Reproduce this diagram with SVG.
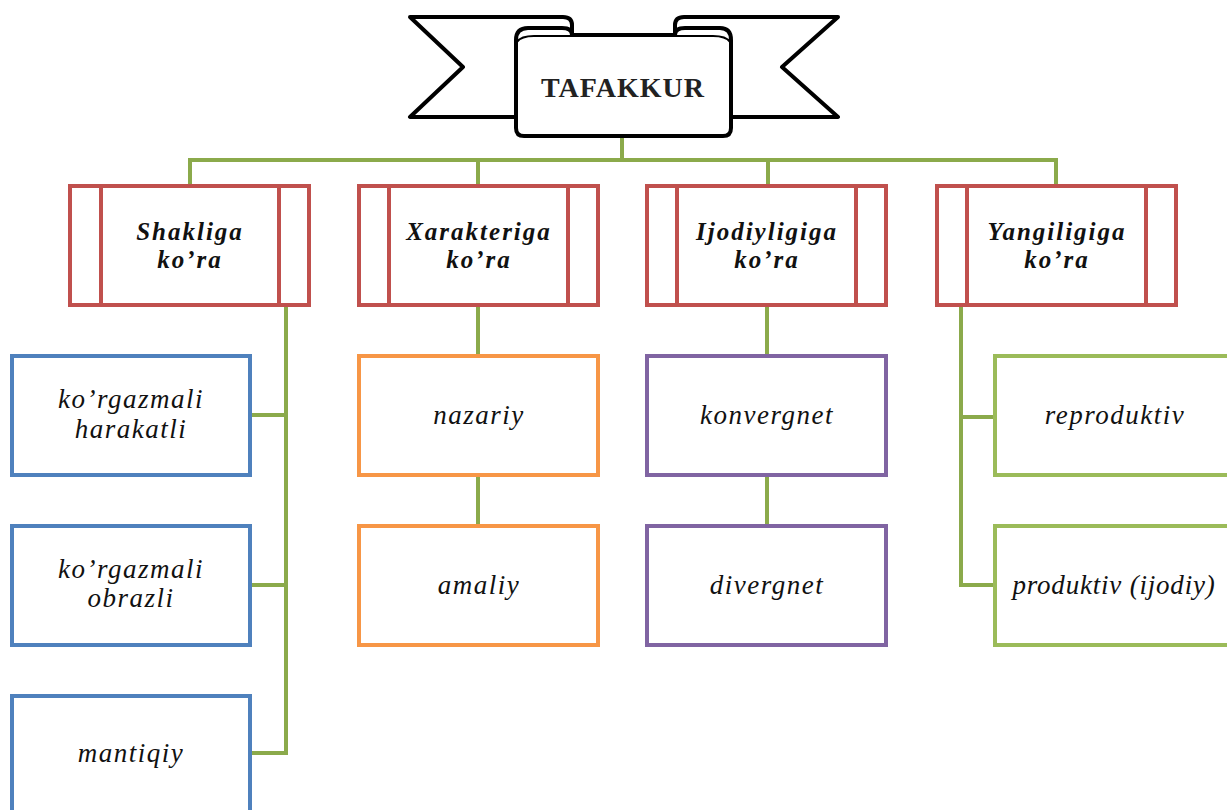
<svg xmlns="http://www.w3.org/2000/svg" width="1227" height="810" viewBox="0 0 1227 810">
<style>
.conn{stroke:#8BAA4B;stroke-width:4;fill:none;stroke-linecap:square}
.ban{fill:#fff;stroke:#000;stroke-width:4;stroke-linejoin:round}
.cat{fill:#fff;stroke:#C0504D;stroke-width:4}
.catl{stroke:#C0504D;stroke-width:4}
.blue{fill:#fff;stroke:#4F81BD;stroke-width:4}
.orange{fill:#fff;stroke:#F79646;stroke-width:4}
.purple{fill:#fff;stroke:#8064A2;stroke-width:4}
.green{fill:#fff;stroke:#9BBB59;stroke-width:4}
.title{font-family:"Liberation Serif","Times New Roman",serif;font-weight:bold;font-size:28px;letter-spacing:1px;fill:#222;text-anchor:middle}
.ct{font-family:"Liberation Serif","Times New Roman",serif;font-weight:bold;font-style:italic;font-size:25px;letter-spacing:2px;fill:#111;text-anchor:middle}
.it{font-family:"Liberation Serif","Times New Roman",serif;font-style:italic;font-size:27px;letter-spacing:1.5px;fill:#111;text-anchor:middle}
</style>
<g id="connectors">
<path class="conn" d="M622,136 V160 M190,160 H1056 M190,160 V185 M478,160 V185 M768,160 V185 M1056,160 V185"/>
<path class="conn" d="M286,305 V753 M250,415 H286 M250,585 H286 M250,753 H286"/>
<path class="conn" d="M478,305 V355 M478,475 V526"/>
<path class="conn" d="M767,305 V355 M767,475 V526"/>
<path class="conn" d="M961,305 V585 M961,417 H995 M961,585 H995"/>
</g>
<g id="tafakkur">
<path class="ban" d="M572,36 L572,25 Q572,17 563,17 L410,17 L463,67 L410,117 L522,117 L522,36 Z"/>
<path class="ban" d="M675,36 L675,25 Q675,17 684,17 L838,17 L782,67 L838,117 L725,117 L725,36 Z"/>
<path class="ban" d="M516,40 Q516,28 528,28 L562,28 Q572,28 572,35 L675,35 Q675,28 685,28 L720,28 Q731,28 731,40 L731,128 Q731,136 723,136 L524,136 Q516,136 516,128 Z"/>
<path fill="none" stroke="#000" stroke-width="2" d="M517,42 Q521,36 534,36 L572,36 M675,36 L713,36 Q726,36 730,42"/>
<text class="title" x="623" y="97">TAFAKKUR</text>
</g>
<g id="shakliga">
<rect class="cat" x="70" y="186" width="239" height="119"/>
<line class="catl" x1="101" y1="186" x2="101" y2="305"/>
<line class="catl" x1="279" y1="186" x2="279" y2="305"/>
<text class="ct" x="190" y="240">Shakliga</text>
<text class="ct" x="190" y="268">ko’ra</text>
</g>
<g id="xarakteriga">
<rect class="cat" x="359" y="186" width="239" height="119"/>
<line class="catl" x1="389" y1="186" x2="389" y2="305"/>
<line class="catl" x1="568" y1="186" x2="568" y2="305"/>
<text class="ct" x="479" y="240">Xarakteriga</text>
<text class="ct" x="479" y="268">ko’ra</text>
</g>
<g id="ijodiyligiga">
<rect class="cat" x="647" y="186" width="239" height="119"/>
<line class="catl" x1="677" y1="186" x2="677" y2="305"/>
<line class="catl" x1="856" y1="186" x2="856" y2="305"/>
<text class="ct" x="767" y="240">Ijodiyligiga</text>
<text class="ct" x="767" y="268">ko’ra</text>
</g>
<g id="yangiligiga">
<rect class="cat" x="937" y="186" width="239" height="119"/>
<line class="catl" x1="967" y1="186" x2="967" y2="305"/>
<line class="catl" x1="1146" y1="186" x2="1146" y2="305"/>
<text class="ct" x="1057" y="240">Yangiligiga</text>
<text class="ct" x="1057" y="268">ko’ra</text>
</g>
<g id="korgazmali-harakatli">
<rect class="blue" x="12" y="356" width="238" height="119"/>
<text class="it" x="131" y="408">ko’rgazmali</text>
<text class="it" x="131" y="438">harakatli</text>
</g>
<g id="korgazmali-obrazli">
<rect class="blue" x="12" y="526" width="238" height="119"/>
<text class="it" x="131" y="578">ko’rgazmali</text>
<text class="it" x="131" y="607">obrazli</text>
</g>
<g id="mantiqiy">
<rect class="blue" x="12" y="696" width="238" height="124"/>
<text class="it" x="131" y="762">mantiqiy</text>
</g>
<g id="nazariy">
<rect class="orange" x="359" y="356" width="239" height="119"/>
<text class="it" x="479" y="424">nazariy</text>
</g>
<g id="amaliy">
<rect class="orange" x="359" y="526" width="239" height="119"/>
<text class="it" x="479" y="594">amaliy</text>
</g>
<g id="konvergnet">
<rect class="purple" x="647" y="356" width="239" height="119"/>
<text class="it" x="767" y="424">konvergnet</text>
</g>
<g id="divergnet">
<rect class="purple" x="647" y="526" width="239" height="119"/>
<text class="it" x="767" y="594">divergnet</text>
</g>
<g id="reproduktiv">
<rect class="green" x="995" y="356" width="250" height="119"/>
<text class="it" x="1115" y="424">reproduktiv</text>
</g>
<g id="produktiv">
<rect class="green" x="995" y="526" width="250" height="119"/>
<text class="it" x="1114" y="594" style="letter-spacing:0.8px">produktiv (ijodiy)</text>
</g>
</svg>
